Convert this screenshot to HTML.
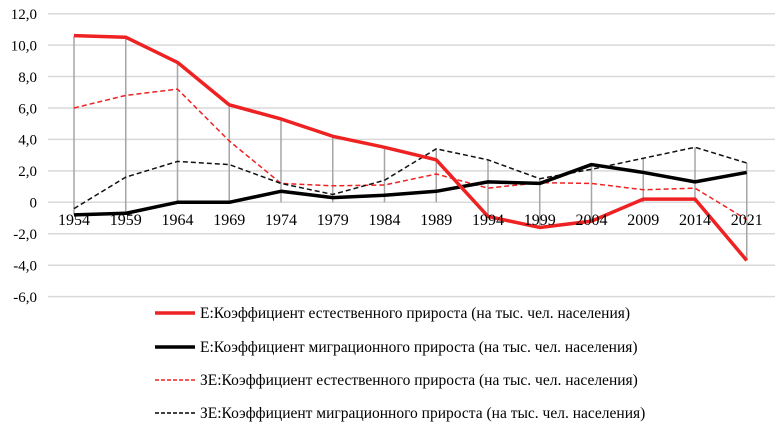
<!DOCTYPE html>
<html><head><meta charset="utf-8"><style>
html,body{margin:0;padding:0;background:#fff;}
svg text{font-family:"Liberation Serif","Times New Roman","DejaVu Serif",serif;}
</style></head><body>
<svg width="781" height="432" viewBox="0 0 781 432" xmlns="http://www.w3.org/2000/svg" font-family="Liberation Serif, serif">
<g stroke="#d9d9d9" stroke-width="1.5">
<line x1="48" x2="775" y1="13.7" y2="13.7"/><line x1="48" x2="775" y1="45.1" y2="45.1"/>
<line x1="48" x2="775" y1="76.5" y2="76.5"/><line x1="48" x2="775" y1="108" y2="108"/>
<line x1="48" x2="775" y1="139.4" y2="139.4"/><line x1="48" x2="775" y1="170.9" y2="170.9"/>
<line x1="48" x2="775" y1="202.3" y2="202.3"/><line x1="48" x2="775" y1="233.7" y2="233.7"/>
<line x1="48" x2="775" y1="265.2" y2="265.2"/><line x1="48" x2="775" y1="296.6" y2="296.6"/>
</g>
<g font-size="15" fill="#000" text-anchor="end" font-family="Liberation Serif, serif">
<text x="37" y="19">12,0</text><text x="37" y="50.4">10,0</text><text x="37" y="81.8">8,0</text>
<text x="37" y="113.3">6,0</text><text x="37" y="144.7">4,0</text><text x="37" y="176.2">2,0</text>
<text x="37" y="207.6">0</text><text x="37" y="239">-2,0</text><text x="37" y="270.5">-4,0</text>
<text x="37" y="301.9">-6,0</text>
</g>
<g transform="matrix(1 0 0 -15.72 0 202.3)" fill="none">
<path vector-effect="non-scaling-stroke" stroke="#a6a6a6" stroke-width="1.5" d="M74 10.6V-0.8M125.75 10.5V-0.7M177.5 8.9V0M229.25 6.2V0M281 5.3V0M332.75 4.2V0M384.5 3.5V0M436.25 3.4V0M488 2.7V-0.9M539.75 1.5V-1.6M591.5 2.4V-1.2M643.25 2.8V0M695 3.5V0M746.75 2.5V-3.7"/>
<polyline vector-effect="non-scaling-stroke" stroke="#ee2222" stroke-width="1.5" stroke-dasharray="5,3" points="74,6 125.75,6.8 177.5,7.2 229.25,3.9 281,1.2 332.75,1.05 384.5,1.1 436.25,1.8 488,0.9 539.75,1.25 591.5,1.2 643.25,0.8 695,0.9 746.75,-1.1"/>
<polyline vector-effect="non-scaling-stroke" stroke="#111" stroke-width="1.5" stroke-dasharray="5,3" points="74,-0.4 125.75,1.6 177.5,2.6 229.25,2.4 281,1.2 332.75,0.5 384.5,1.4 436.25,3.4 488,2.7 539.75,1.5 591.5,2.1 643.25,2.8 695,3.5 746.75,2.5"/>
<polyline vector-effect="non-scaling-stroke" stroke="#000" stroke-width="3.5" stroke-linejoin="round" points="74,-0.8 125.75,-0.7 177.5,0 229.25,0 281,0.7 332.75,0.3 384.5,0.45 436.25,0.7 488,1.3 539.75,1.2 591.5,2.4 643.25,1.9 695,1.3 746.75,1.9"/>
<polyline vector-effect="non-scaling-stroke" stroke="#ee2222" stroke-width="3.5" stroke-linejoin="round" points="74,10.6 125.75,10.5 177.5,8.9 229.25,6.2 281,5.3 332.75,4.2 384.5,3.5 436.25,2.7 488,-0.9 539.75,-1.6 591.5,-1.2 643.25,0.2 695,0.2 746.75,-3.7"/>
</g>
<g font-size="16" fill="#000" text-anchor="middle" font-family="Liberation Serif, serif">
<text x="74" y="225">1954</text><text x="125.75" y="225">1959</text><text x="177.5" y="225">1964</text>
<text x="229.25" y="225">1969</text><text x="281" y="225">1974</text><text x="332.75" y="225">1979</text>
<text x="384.5" y="225">1984</text><text x="436.25" y="225">1989</text><text x="488" y="225">1994</text>
<text x="539.75" y="225">1999</text><text x="591.5" y="225">2004</text><text x="643.25" y="225">2009</text>
<text x="695" y="225">2014</text><text x="746.75" y="225">2021</text>
</g>
<line x1="155" x2="195" y1="313" y2="313" stroke="#ee2222" stroke-width="3.5"/>
<line x1="155" x2="195" y1="347" y2="347" stroke="#000" stroke-width="3.5"/>
<line x1="155" x2="195" y1="380" y2="380" stroke="#ee2222" stroke-width="1.5" stroke-dasharray="4,2"/>
<line x1="155" x2="195" y1="413" y2="413" stroke="#000" stroke-width="1.5" stroke-dasharray="4,2"/>
<g font-size="15.5" fill="#000" font-family="Liberation Serif, serif">
<text x="200" y="318">Е:Коэффициент естественного прироста (на тыс. чел. населения)</text>
<text x="200" y="352">Е:Коэффициент миграционного прироста (на тыс. чел. населения)</text>
<text x="200" y="385">ЗЕ:Коэффициент естественного прироста (на тыс. чел. населения)</text>
<text x="200" y="418">ЗЕ:Коэффициент миграционного прироста (на тыс. чел. населения)</text>
</g>
</svg>
</body></html>
